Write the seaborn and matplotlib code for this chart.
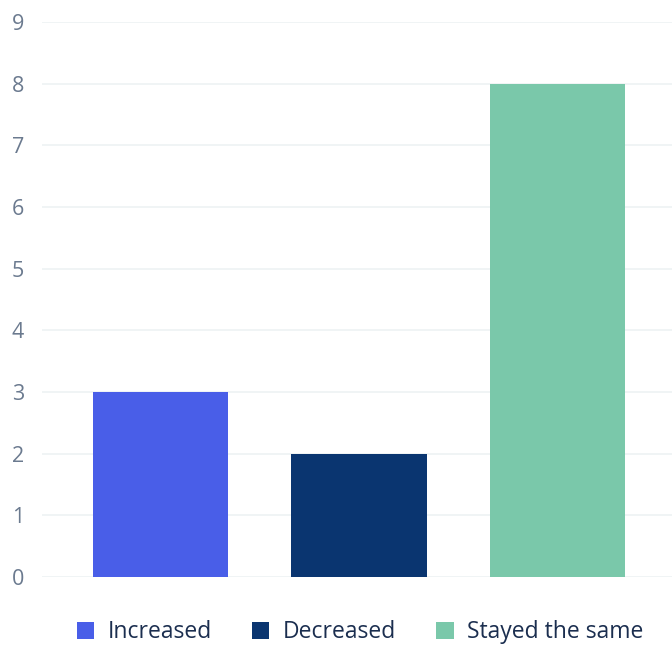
import matplotlib
matplotlib.use("Agg")
import matplotlib.pyplot as plt
import pandas as pd
import seaborn as sns

# data
categories = ["Increased", "Decreased", "Stayed the same"]
counts = [3, 2, 8]
colors = ["#495EE8", "#0A3570", "#7AC8AA"]

y_ticks = list(range(0, 10))


def main():
    df = pd.DataFrame({"change": categories, "count": counts})

    sns.set_theme(style="white")
    plt.rcParams["font.family"] = ["Open Sans", "DejaVu Sans"]

    fig = plt.figure(figsize=(6.72, 6.46), dpi=100)
    ax = fig.add_axes([0.0625, 0.1068, 0.9375, 0.8592])

    sns.barplot(data=df, x="change", y="count", hue="change",
                palette=colors, width=0.68, saturation=1, linewidth=0,
                legend=True, ax=ax, zorder=3)

    ax.set_xlim(-0.595, 2.575)
    ax.set_ylim(0, 9)
    ax.set_yticks(y_ticks)
    ax.set_yticklabels([str(t) for t in y_ticks], fontsize=15.5, color="#6B7A8F")
    ax.tick_params(axis="y", length=0, pad=13)
    ax.set_xticks([])
    ax.set_xlabel("")
    ax.set_ylabel("")
    ax.yaxis.grid(True, color="#EEF2F3", linewidth=1.2, zorder=0)
    for side in ax.spines.values():
        side.set_visible(False)

    handles, labels = ax.get_legend_handles_labels()
    if ax.get_legend() is not None:
        ax.get_legend().remove()
    fig.legend(handles, labels, loc="center", bbox_to_anchor=(0.536, 0.021),
               ncol=3, frameon=False, fontsize=16.5, labelcolor="#1B2E4F",
               handlelength=0.75, handleheight=0.75, handletextpad=0.6,
               columnspacing=1.75)

    fig.savefig("out.png", dpi=100)


if __name__ == "__main__":
    main()
